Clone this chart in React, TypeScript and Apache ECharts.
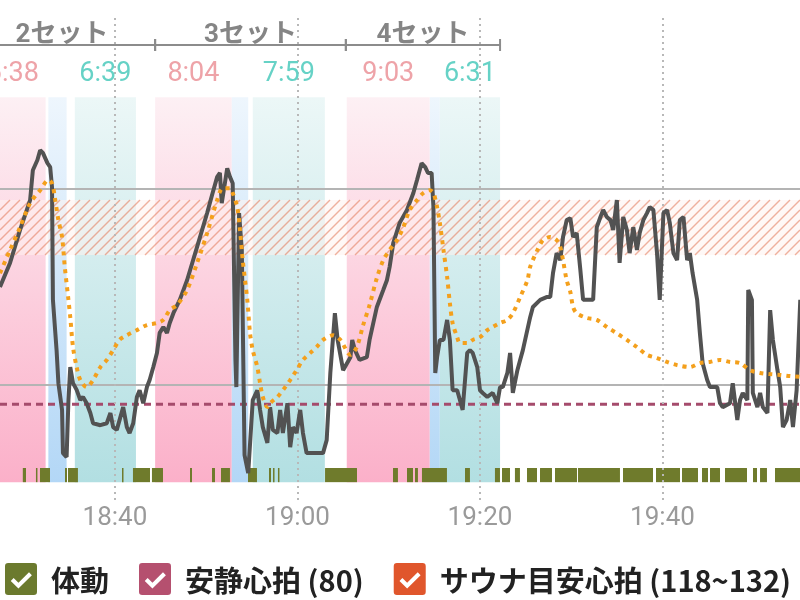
import React, { useEffect, useRef } from 'react';
import * as echarts from 'echarts';

// minutes after 18:00
const xTickMinutes = [40, 60, 80, 100];
const X_MIN = 27.4;
const X_MAX = 115.07;
const Y_MIN = 55.66;
const Y_MAX = 178.6;

const heartRate: number[][] = [
  [27.4,109.9],[28.5,116.0],[29.6,124.4],[30.7,132.0],[31.0,139.6],[31.5,142.2],[31.8,144.7],[32.1,144.0],[32.6,141.4],[32.9,140.4],
  [33.1,135.3],[33.2,106.6],[33.6,93.8],[33.8,85.4],[34.2,78.6],[34.3,67.6],[34.7,66.6],[34.9,81.1],[35.1,89.5],[35.4,85.4],
  [35.8,83.7],[36.2,81.1],[36.5,81.9],[36.9,80.3],[37.3,77.8],[37.6,75.2],[38.4,74.7],[39.1,75.2],[39.5,77.8],[39.8,74.2],
  [40.2,73.5],[40.9,79.3],[41.3,74.2],[41.6,72.7],[42.0,75.2],[42.4,81.9],[42.7,83.6],[43.1,80.3],[43.5,84.4],[43.8,86.2],
  [44.2,89.5],[44.6,93.1],[44.9,98.2],[45.3,99.7],[45.7,98.2],[46.0,100.7],[46.4,103.2],[47.1,106.6],[47.9,111.6],[49.0,120.1],
  [50.1,128.7],[50.7,133.8],[51.2,137.9],[51.5,138.9],[51.7,131.2],[52.3,140.1],[52.6,137.9],[52.9,136.3],[53.2,91.3],[53.3,84.4],
  [53.6,128.7],[53.9,119.3],[54.2,67.1],[54.6,62.5],[55.1,81.1],[55.6,83.6],[55.9,78.6],[56.2,74.2],[56.7,70.2],[57.0,79.3],
  [57.3,73.5],[57.8,72.7],[58.1,78.6],[58.4,72.7],[58.9,80.3],[59.2,69.1],[59.5,74.2],[59.9,72.7],[60.3,78.6],[60.6,72.7],
  [61.0,67.6],[61.7,67.6],[62.8,67.6],[63.2,70.9],[63.6,88.0],[64.1,103.2],[64.4,96.4],[65.0,88.7],[65.8,92.0],[66.0,96.4],
  [66.3,93.8],[66.8,91.3],[67.6,92.0],[67.9,96.4],[68.7,104.8],[69.4,109.1],[69.8,111.6],[70.1,115.0],[70.5,121.1],[71.2,126.2],
  [72.0,129.5],[72.7,133.8],[73.1,137.1],[73.6,141.4],[74.0,140.4],[74.3,138.9],[74.7,138.9],[74.9,130.2],[75.1,88.0],[75.3,92.0],
  [75.6,96.4],[76.0,96.4],[76.4,101.5],[76.7,96.4],[77.0,83.6],[77.5,83.6],[77.8,81.1],[78.1,78.6],[78.6,93.1],[78.9,93.8],
  [79.2,93.1],[79.7,89.5],[80.0,83.6],[80.3,82.9],[80.8,81.9],[81.4,82.9],[81.9,80.3],[82.2,84.4],[82.5,84.4],[83.0,88.0],
  [83.3,93.1],[83.6,82.9],[84.1,88.7],[84.4,91.3],[84.7,93.8],[85.5,102.2],[85.8,104.8],[86.6,106.6],[87.3,107.3],[87.7,107.3],
  [88.0,113.4],[88.4,118.5],[88.8,116.7],[89.1,122.6],[89.5,126.9],[89.9,127.4],[90.2,122.6],[90.6,123.6],[91.0,114.2],[91.3,106.6],
  [91.7,106.6],[92.4,106.6],[92.8,125.1],[93.2,127.7],[93.5,129.5],[93.9,127.7],[94.3,126.9],[94.6,124.4],[95.0,132.0],[95.3,116.0],
  [95.7,127.7],[96.1,124.4],[96.4,118.5],[96.8,125.1],[97.2,119.3],[97.5,123.6],[97.9,126.9],[98.3,128.7],[98.6,130.2],[99.0,129.5],
  [99.4,118.5],[99.7,106.6],[100.1,128.7],[100.5,129.5],[100.8,126.2],[101.2,118.5],[101.6,116.7],[101.9,126.9],[102.3,127.7],[102.7,116.7],
  [103.0,118.5],[103.3,113.4],[103.8,106.6],[104.1,98.1],[104.4,90.5],[104.9,86.2],[105.2,84.4],[106.0,84.4],[106.3,80.3],[106.6,79.3],
  [107.4,80.3],[107.7,85.4],[108.2,76.0],[108.5,81.1],[108.8,82.9],[109.3,81.1],[109.4,109.1],[109.8,106.6],[109.9,82.9],[110.4,79.3],
  [110.7,82.9],[111.0,79.3],[111.5,77.8],[111.8,104.0],[112.1,96.4],[112.6,88.7],[112.9,84.4],[113.2,74.2],[113.6,76.0],[114.0,81.1],
  [114.3,74.2],[114.7,83.6],[115.1,106.6]
];

const heartRateTrend: number[][] = [
  [27.4,113.4],[28.5,119.3],[29.6,125.1],[30.7,131.2],[31.8,134.5],[32.7,137.1],[33.1,136.3],[33.4,132.8],[33.8,126.9],[34.2,122.6],
  [34.5,115.0],[34.9,106.6],[35.1,102.2],[35.4,94.6],[35.8,89.5],[36.2,86.2],[36.9,84.4],[37.6,86.2],[38.4,89.5],[39.1,91.3],
  [39.8,93.8],[40.5,96.4],[41.3,97.6],[42.4,98.9],[43.5,100.2],[44.6,100.7],[45.3,101.5],[46.0,104.0],[46.8,105.3],[47.9,109.1],
  [49.0,116.0],[50.1,123.6],[51.2,132.0],[51.8,135.0],[52.6,135.0],[52.9,133.8],[53.4,130.2],[53.7,124.4],[54.0,116.7],[54.5,106.6],
  [54.8,98.1],[55.1,93.8],[55.6,89.5],[55.9,85.4],[56.2,81.9],[56.7,79.3],[57.0,80.3],[57.8,81.9],[58.4,83.6],[59.2,86.2],
  [59.9,88.7],[60.6,91.3],[61.4,93.1],[62.1,94.6],[62.8,96.4],[63.9,97.6],[64.7,96.4],[65.8,92.6],[66.5,94.6],[67.2,100.2],
  [67.9,105.3],[68.7,112.2],[69.4,116.7],[70.1,119.3],[70.9,121.8],[71.6,125.1],[72.3,129.5],[73.1,132.0],[73.8,133.8],[74.5,134.5],
  [74.9,133.8],[75.3,130.2],[75.6,126.2],[76.0,119.3],[76.4,112.4],[76.7,105.8],[77.0,100.7],[77.5,97.1],[77.8,95.6],[78.6,95.6],
  [79.2,96.4],[80.0,97.1],[80.8,98.9],[81.4,99.7],[82.2,100.7],[83.0,101.5],[83.6,103.2],[84.4,107.3],[85.2,111.6],[85.5,115.0],
  [86.3,119.3],[86.9,121.8],[87.7,122.6],[88.4,121.8],[88.8,120.0],[89.1,116.7],[89.5,111.6],[89.9,108.6],[90.2,104.8],[90.6,103.2],
  [91.7,102.0],[92.8,101.5],[93.9,99.7],[95.0,98.1],[96.1,96.4],[97.2,94.6],[98.3,92.6],[99.4,91.8],[100.5,90.8],[101.6,90.0],
  [103.0,89.5],[104.1,90.5],[105.2,90.8],[106.3,91.3],[107.4,90.8],[108.5,90.5],[109.6,88.7],[110.7,88.0],[111.8,87.7],[112.9,87.5],
  [114.0,87.2],[115.1,87.0]
];

const saunaPeriods = [[25.2, 32.4], [44.4, 52.8], [65.4, 74.5]];
const waterPeriods = [[32.7, 34.7], [52.8, 54.6], [74.5, 75.6]];
const restPeriods = [[35.6, 42.3], [55.1, 63.0], [75.6, 82.2]];
const saunaDurations = ['6:38', '8:04', '9:03'];
const restDurations = ['6:39', '7:59', '6:31'];
const setNames = ['2セット', '3セット', '4セット'];
const setBounds = [[24.0, 44.4], [44.4, 65.3], [65.3, 82.2]];

const bodyMovement: number[][] = [
  [29.9,30.25],[31.34,31.45],[31.78,32.88],[34.52,34.74],[34.85,35.94],[40.77,40.88],[41.97,43.84],[44.05,45.26],[48.22,48.44],
  [50.63,50.96],[51.62,52.6],[54.58,55.56],[56.88,57.1],[57.32,57.42],[57.86,57.97],[63.02,66.52],[70.47,71.01],[72.0,72.66],
  [72.88,73.2],[73.64,76.38],[78.36,78.9],[81.64,82.19],[82.41,83.29],[83.83,84.38],[85.15,86.25],[86.58,87.89],[88.22,90.63],
  [90.74,95.34],[95.67,98.96],[99.29,101.92],[102.14,103.89],[104.33,104.99],[105.21,106.3],[106.85,109.26],[109.92,110.36],
  [110.69,111.45],[112.33,115.1]
];

const restingHR = 80;
const saunaTarget = [118, 132];
const referenceLines = [85, 135];

const PHASE_TOP = 158.2;
const PHASE_BOTTOM = 60.2;
const MOVE_TOP = 63.8;

const phaseGradients = [
  ['#fdf0f4', '#fbb0c9'],
  ['#eef6fd', '#b3d7f6'],
  ['#ecf7f7', '#b2dfe2'],
];

const CHECK_ICON =
  'path://M10,0 L90,0 Q100,0 100,10 L100,90 Q100,100 90,100 L10,100 Q0,100 0,90 L0,10 Q0,0 10,0 Z ' +
  'M18,56 L42,80 L84,38 L75,29 L42,62 L27,47 Z';

const NAME_MOVE = '体動';
const NAME_REST = '安静心拍 (80)';
const NAME_TARGET = 'サウナ目安心拍 (118~132)';

const fmtTime = (v: number) => {
  const h = 18 + Math.floor(v / 60);
  const m = Math.round(v % 60);
  return `${h}:${String(m).padStart(2, '0')}`;
};

export default function App() {
  const ref = useRef<HTMLDivElement>(null);
  useEffect(() => {
    if (!ref.current) return;
    const chart = echarts.init(ref.current, undefined, { renderer: 'svg' });

    const phaseData = [
      ...saunaPeriods.map((p) => [p[0], p[1], 0]),
      ...waterPeriods.map((p) => [p[0], p[1], 1]),
      ...restPeriods.map((p) => [p[0], p[1], 2]),
    ];
    const durationData = [
      ...saunaPeriods.map((p, i) => ({ value: [(p[0] + p[1]) / 2], t: saunaDurations[i], c: '#eea3a8' })),
      ...restPeriods.map((p, i) => ({ value: [(p[0] + p[1]) / 2], t: restDurations[i], c: '#66d2c6' })),
    ];

    const font = "Roboto, 'Noto Sans CJK JP', sans-serif";

    const option: any = {
      animation: false,
      grid: { left: 0, right: 0, top: 17, bottom: 100, containLabel: false },
      xAxis: {
        type: 'value',
        min: X_MIN,
        max: X_MAX,
        axisLine: { show: false },
        axisTick: { show: false },
        splitLine: { show: false },
        axisLabel: {
          customValues: xTickMinutes,
          formatter: (v: number) => fmtTime(v),
          fontSize: 26,
          color: '#9a9a9a',
          fontFamily: font,
          margin: 3,
        },
      },
      yAxis: {
        type: 'value',
        min: Y_MIN,
        max: Y_MAX,
        show: false,
        splitLine: { show: false },
      },
      legend: {
        left: 0,
        top: 558,
        itemWidth: 32,
        itemHeight: 32,
        itemGap: 30,
        icon: CHECK_ICON,
        itemStyle: { borderWidth: 0 },
        textStyle: {
          fontSize: 29,
          fontWeight: 'bold',
          color: '#222',
          fontFamily: "'Noto Sans CJK JP', sans-serif",
          padding: [0, 0, 0, 9],
        },
        data: [
          { name: NAME_MOVE, itemStyle: { color: '#6b7a2e' } },
          { name: NAME_REST, itemStyle: { color: '#b5506f' } },
          { name: NAME_TARGET, itemStyle: { color: '#e0562c' } },
        ],
      },
      series: [
        {
          name: 'phases',
          type: 'custom',
          silent: true,
          z: 1,
          data: phaseData,
          renderItem: (params: any, api: any) => {
            const cs = params.coordSys;
            const s = api.coord([api.value(0), PHASE_TOP]);
            const e = api.coord([api.value(1), PHASE_BOTTOM]);
            const x0 = Math.max(s[0], cs.x);
            const x1 = Math.min(e[0], cs.x + cs.width);
            if (x1 <= x0) return null;
            const g = phaseGradients[api.value(2)];
            return {
              type: 'rect',
              shape: { x: x0, y: s[1], width: x1 - x0, height: e[1] - s[1] },
              style: {
                fill: new echarts.graphic.LinearGradient(0, 0, 0, 1, [
                  { offset: 0, color: g[0] },
                  { offset: 1, color: g[1] },
                ]),
              },
            };
          },
        },
        {
          name: NAME_MOVE,
          type: 'custom',
          silent: true,
          z: 2,
          itemStyle: { color: '#6b7a2e' },
          data: bodyMovement,
          renderItem: (params: any, api: any) => {
            const cs = params.coordSys;
            const s = api.coord([api.value(0), MOVE_TOP]);
            const e = api.coord([api.value(1), PHASE_BOTTOM]);
            const x0 = Math.max(s[0], cs.x);
            const x1 = Math.min(Math.max(e[0], s[0] + 1.5), cs.x + cs.width);
            return {
              type: 'rect',
              shape: { x: x0, y: s[1], width: x1 - x0, height: e[1] - s[1] },
              style: { fill: '#6f7b2c' },
            };
          },
        },
        {
          name: NAME_TARGET,
          type: 'custom',
          silent: true,
          z: 3,
          itemStyle: { color: '#e0562c' },
          data: [[X_MIN, X_MAX, saunaTarget[0], saunaTarget[1]]],
          renderItem: (params: any, api: any) => {
            const cs = params.coordSys;
            const tl = api.coord([api.value(0), api.value(3)]);
            const br = api.coord([api.value(1), api.value(2)]);
            const x0 = Math.max(tl[0], cs.x);
            const x1 = Math.min(br[0], cs.x + cs.width);
            const y0 = tl[1];
            const y1 = br[1];
            const h = y1 - y0;
            const children: any[] = [
              { type: 'rect', shape: { x: x0, y: y0, width: x1 - x0, height: h }, style: { fill: 'rgba(255,243,238,0.55)' } },
            ];
            for (let c = x0 - h; c < x1; c += 10) {
              const tA = Math.max(0, x0 - c);
              const tB = Math.min(h, x1 - c);
              if (tB <= tA) continue;
              children.push({
                type: 'line',
                shape: { x1: c + tA, y1: y1 - tA, x2: c + tB, y2: y1 - tB },
                style: { stroke: 'rgba(226,118,86,0.55)', lineWidth: 1.4 },
              });
            }
            return { type: 'group', children };
          },
        },
        {
          name: 'guides',
          type: 'line',
          silent: true,
          z: 3,
          data: [],
          markLine: {
            silent: true,
            symbol: 'none',
            label: { show: false },
            data: [
              ...referenceLines.map((v) => ({ yAxis: v, lineStyle: { color: '#b4b4b4', width: 2, type: 'solid' } })),
              ...xTickMinutes.map((v) => ({ xAxis: v, lineStyle: { color: '#b8b8b8', width: 2, type: [2, 4] } })),
            ],
          },
        },
        {
          name: NAME_REST,
          type: 'line',
          silent: true,
          z: 4,
          showSymbol: false,
          itemStyle: { color: '#b5506f' },
          lineStyle: { color: '#a54b6c', width: 3, type: [7, 5] },
          data: [[X_MIN, restingHR], [X_MAX, restingHR]],
        },
        {
          name: 'heartRate',
          type: 'line',
          silent: true,
          z: 5,
          showSymbol: false,
          lineStyle: { color: '#525252', width: 4 },
          data: heartRate,
        },
        {
          name: 'trend',
          type: 'line',
          silent: true,
          z: 6,
          smooth: 0.3,
          showSymbol: false,
          lineStyle: { color: '#f4a01c', width: 4, type: [4, 5] },
          data: heartRateTrend,
        },
        {
          name: 'sets',
          type: 'custom',
          silent: true,
          z: 7,
          clip: false,
          data: setBounds,
          renderItem: (params: any, api: any) => {
            const s = api.coord([api.value(0), 0])[0];
            const e = api.coord([api.value(1), 0])[0];
            const yl = 45;
            const stroke = { stroke: '#8c8c8c', lineWidth: 2 };
            return {
              type: 'group',
              children: [
                { type: 'line', shape: { x1: s, y1: yl, x2: e, y2: yl }, style: stroke },
                { type: 'line', shape: { x1: s, y1: yl - 6, x2: s, y2: yl + 6 }, style: stroke },
                { type: 'line', shape: { x1: e, y1: yl - 6, x2: e, y2: yl + 6 }, style: stroke },
                {
                  type: 'text',
                  style: {
                    text: setNames[params.dataIndex],
                    x: (s + e) / 2,
                    y: yl + 1,
                    align: 'center',
                    verticalAlign: 'bottom',
                    fill: '#858585',
                    fontSize: 26,
                    fontWeight: 'bold',
                    fontFamily: font,
                  },
                },
              ],
            };
          },
        },
        {
          name: 'durations',
          type: 'custom',
          silent: true,
          z: 7,
          clip: false,
          data: durationData.map((d) => d.value),
          renderItem: (params: any, api: any) => {
            const x = api.coord([api.value(0), 0])[0];
            const d = durationData[params.dataIndex];
            return {
              type: 'text',
              style: {
                text: d.t,
                x,
                y: 72,
                align: 'center',
                verticalAlign: 'middle',
                fill: d.c,
                fontSize: 27,
                fontFamily: font,
              },
            };
          },
        },
      ],
    };
    chart.setOption(option);
    return () => chart.dispose();
  }, []);
  return <div ref={ref} style={{ position: 'fixed', left: 0, top: 0, width: 800, height: 600 }} />;
}
